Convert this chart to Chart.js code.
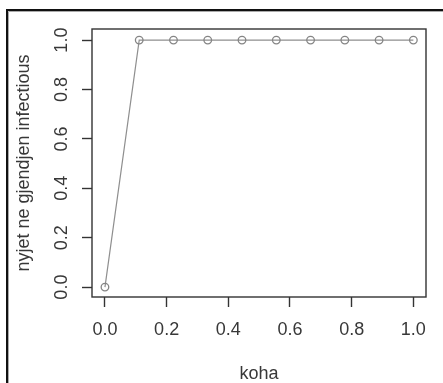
<!DOCTYPE html>
<html>
<head>
<meta charset="utf-8">
<script src="https://cdn.jsdelivr.net/npm/chart.js@4/dist/chart.umd.min.js"></script>
<style>
html,body{margin:0;padding:0;background:#fff;}
#wrap{width:443px;height:383px;position:relative;}
</style>
</head>
<body>
<div id="wrap"><canvas id="c" width="443" height="383"></canvas></div>
<script>
const kohaValues = [0, 0.1111, 0.2222, 0.3333, 0.4444, 0.5556, 0.6667, 0.7778, 0.8889, 1.0];
const infectiousValues = [0, 1, 1, 1, 1, 1, 1, 1, 1, 1];
const xTicks = [0, 0.2, 0.4, 0.6, 0.8, 1.0];
const yTicks = [0, 0.2, 0.4, 0.6, 0.8, 1.0];
const xTitle = 'koha';
const yTitle = 'nyjet ne gjendjen infectious';

const FONT = 'Liberation Sans, Arial, sans-serif';
const TXT = '#383838';
const FS = 18;

const framePlugin = {
  id: 'frame',
  afterDraw(chart) {
    const ctx = chart.ctx;
    const a = chart.chartArea;
    ctx.save();
    ctx.strokeStyle = '#333';
    ctx.lineWidth = 1.4;
    ctx.strokeRect(a.left, a.top, a.right - a.left, a.bottom - a.top);
    ctx.strokeStyle = '#111';
    ctx.lineWidth = 2;
    ctx.beginPath();
    ctx.moveTo(7, 383);
    ctx.lineTo(7, 10);
    ctx.lineTo(443, 10);
    ctx.stroke();
    ctx.strokeStyle = '#aaa';
    ctx.lineWidth = 1;
    ctx.beginPath();
    ctx.moveTo(8.5, 383);
    ctx.lineTo(8.5, 11.5);
    ctx.lineTo(443, 11.5);
    ctx.stroke();
    ctx.restore();
  }
};

new Chart(document.getElementById('c'), {
  type: 'scatter',
  data: {
    datasets: [{
      data: kohaValues.map((x, i) => ({x: x, y: infectiousValues[i]})),
      showLine: true,
      borderColor: '#8f8f8f',
      borderWidth: 1.2,
      pointRadius: 3.8,
      pointBorderColor: '#858585',
      pointBorderWidth: 1.3,
      pointBackgroundColor: 'rgba(255,255,255,0)',
      tension: 0
    }]
  },
  options: {
    responsive: false,
    animation: false,
    devicePixelRatio: 1,
    layout: {padding: {left: 0, right: 17, top: 29, bottom: 0}},
    plugins: {legend: {display: false}, tooltip: {enabled: false}},
    scales: {
      x: {
        type: 'linear',
        min: -0.042,
        max: 1.041,
        afterBuildTicks: s => { s.ticks = xTicks.map(v => ({value: v})); },
        afterFit: s => { s.height = 86; },
        border: {display: false},
        grid: {drawOnChartArea: false, drawTicks: true, tickLength: 10, tickColor: '#333', tickWidth: 1.4},
        ticks: {
          autoSkip: false, maxRotation: 0, minRotation: 0, padding: 12,
          color: TXT, font: {family: FONT, size: FS},
          callback: v => Number(v).toFixed(1)
        },
        title: {display: true, text: xTitle, color: TXT, font: {family: FONT, size: FS, lineHeight: 1}, padding: {top: 0, bottom: 0}}
      },
      y: {
        type: 'linear',
        min: -0.04,
        max: 1.045,
        afterBuildTicks: s => { s.ticks = yTicks.map(v => ({value: v})); },
        afterFit: s => { s.width = 92; },
        border: {display: false},
        grid: {drawOnChartArea: false, drawTicks: true, tickLength: 10, tickColor: '#333', tickWidth: 1.4},
        ticks: {
          autoSkip: false, minRotation: 90, maxRotation: 90, padding: 7, crossAlign: 'center',
          color: TXT, font: {family: FONT, size: FS},
          callback: v => Number(v).toFixed(1)
        },
        title: {display: true, text: yTitle, color: TXT, font: {family: FONT, size: FS, lineHeight: 1}, padding: {top: 15, bottom: 0}}
      }
    }
  },
  plugins: [framePlugin]
});
</script>
</body>
</html>
